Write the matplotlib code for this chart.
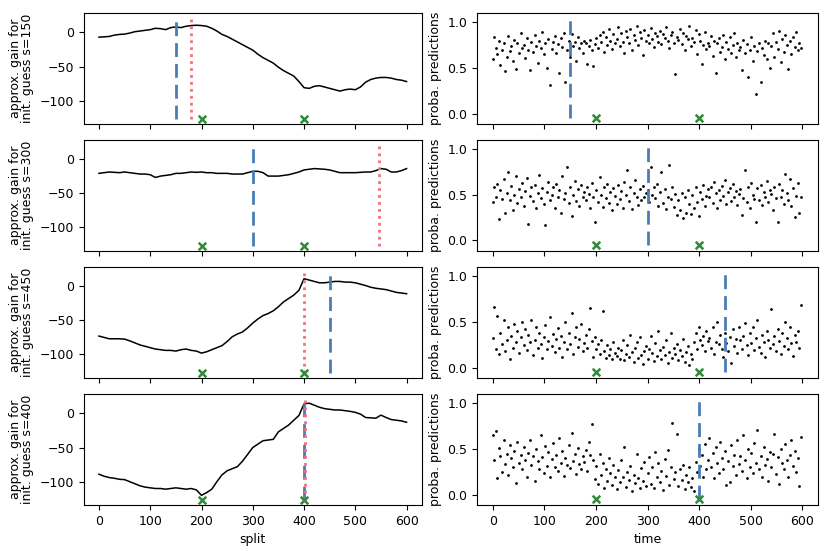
import numpy as np
import matplotlib
matplotlib.use("Agg")
import matplotlib.pyplot as plt

# ---- data ----
guesses = [150, 300, 450, 400]
true_cps = [200, 400]
detected = [150, 300, 450, 400]          # blue dashed
best_split = [180, 547, 400, 402]        # red dotted (left only)

split_step = 10
gain_150 = [-7, -6.5, -6, -4, -3, -2.5, -1, 1, 2, 3, 4, 6, 5.5, 4, 7, 8, 7, 9, 10, 10.5,
            10, 9, 6, 2, -3, -6, -10, -14, -18, -22, -26, -32, -37, -41, -45, -51, -56, -60,
            -64, -72, -81, -82, -79, -78, -80, -82, -84, -86, -84, -83, -84, -80, -73, -69,
            -67, -66, -66, -67, -69, -70, -72]
gain_300 = [-21, -20, -19, -19.5, -20, -19, -20, -21, -22, -22, -23, -27, -25, -24, -23,
            -21, -21, -20, -19, -19.5, -19, -20, -20, -21, -21, -21, -22, -22, -22, -20,
            -18, -18, -20, -25, -25, -25, -24, -23, -21, -19, -16, -15, -14, -14.5, -15,
            -16, -18, -20, -20, -20, -20, -19.5, -19, -19, -17, -14, -15, -19, -19, -17, -14]
gain_450 = [-73, -75, -77, -77, -77, -77.5, -80, -83, -86, -88, -90, -92, -93, -94, -94,
            -95, -93, -92, -94, -95, -98, -96, -93, -90, -87, -81, -74, -70, -67, -61, -54,
            -48, -43, -40, -36, -30, -23, -18, -13, -6, 11, 9, 7, 5, 5, 6, 7, 7, 6, 6, 5, 3,
            1, -1.5, -3, -4, -5, -7, -9, -10, -11]
gain_400 = [-89, -92, -94, -95, -96.5, -97, -100, -103, -106, -108, -109, -110, -110, -111,
            -110, -109, -110, -111, -110, -112, -120, -116, -111, -100, -90, -84, -81, -78,
            -70, -60, -50, -45, -40, -39, -38, -27, -22, -17, -10, -3, 14, 15, 12, 9, 7, 6,
            5, 5, 4, 3, 1.5, -1, -6, -6.5, -7, -2.5, -6, -9, -10, -11, -13]

time_step = 3
proba_150 = [60,84,72,65,80,53,70,78,47,62,85,69,74,58,81,49,77,66,88,72,
             75,61,83,70,48,79,68,86,74,56,80,72,90,65,77,50,82,32,71,79,
             85,67,76,45,83,73,88,35,70,80,62,87,74,79,58,84,72,77,66,80,
             78,55,74,81,70,52,76,83,72,86,79,90,68,84,75,93,80,71,87,77,
             82,95,74,88,79,66,91,84,78,93,70,86,81,96,75,89,83,64,92,80,
             86,78,94,82,73,88,85,79,91,76,87,83,95,80,72,86,89,78,44,84,
             81,93,76,88,70,85,82,96,74,83,79,92,65,87,80,55,75,90,71,78,
             74,85,63,80,45,77,83,68,73,86,60,79,71,84,66,75,88,62,78,70,
             73,48,81,67,76,40,70,84,58,74,22,69,78,35,72,64,80,60,77,50,
             74,88,62,79,71,91,57,82,68,86,75,49,80,65,84,73,90,70,78,72]
proba_300 = [42,58,48,62,24,55,45,67,30,52,75,44,60,33,50,70,41,56,47,63,
             38,54,68,18,49,58,43,61,35,52,72,46,57,40,17,53,64,44,50,59,
             36,62,48,55,30,70,45,52,80,41,58,27,50,65,43,56,38,61,47,53,
             44,59,51,35,63,48,20,55,42,69,50,37,58,46,62,41,53,33,57,49,
             40,61,45,54,36,64,50,77,43,58,34,52,66,47,39,56,44,60,48,52,
             55,42,80,50,58,46,62,38,53,75,41,56,34,48,83,45,59,37,51,28,
             44,33,52,25,47,30,55,40,29,50,36,58,42,27,53,45,61,38,49,56,
             47,58,41,64,52,36,55,44,60,49,66,40,53,57,43,62,48,54,39,51,
             56,28,46,77,42,58,35,63,50,45,20,57,44,61,39,53,48,65,42,55,
             51,33,59,46,20,62,48,55,40,73,52,44,67,38,57,26,49,63,30,47]
proba_450 = [32,66,20,57,15,38,26,52,18,30,44,10,35,22,48,28,40,16,33,50,
             25,42,19,36,28,52,14,30,45,21,38,26,11,34,47,20,29,55,24,37,
             17,31,43,22,35,12,28,50,20,38,26,60,15,33,44,23,31,48,18,27,
             36,22,42,65,29,12,34,20,26,15,30,62,18,11,25,14,20,9,28,16,
             13,22,10,19,30,8,15,25,12,36,17,6,21,28,11,33,14,4,18,24,
             10,20,35,16,7,27,13,40,19,9,23,14,30,5,17,38,11,21,15,26,
             8,19,13,31,6,17,24,3,15,10,28,38,20,45,30,25,35,18,40,29,
             32,22,44,15,28,50,26,36,20,12,38,27,18,33,5,42,24,31,16,45,
             30,20,35,49,25,14,38,27,44,19,32,52,23,16,36,28,12,40,30,22,
             64,26,35,18,42,29,15,38,24,50,32,20,45,27,13,36,28,40,22,69]
proba_400 = [66,38,70,18,51,42,25,60,34,45,22,55,40,30,48,13,58,35,44,28,
             52,38,20,46,60,33,42,15,50,37,28,65,41,24,53,32,47,19,39,57,
             30,44,26,62,35,48,21,40,33,55,29,68,37,45,23,51,34,28,42,36,
             49,26,58,44,78,38,17,31,12,45,22,35,8,28,15,40,24,11,33,19,
             6,27,14,38,20,52,9,25,16,32,4,22,13,45,18,7,29,15,36,10,
             24,41,12,30,8,47,19,35,14,26,5,39,21,49,11,30,79,17,25,67,
             10,28,16,33,6,22,14,30,9,18,4,36,25,50,32,44,20,56,28,38,
             62,30,46,18,52,35,24,58,40,28,48,11,37,14,55,31,44,22,60,34,
             42,26,65,38,18,50,30,46,24,57,35,71,28,43,20,52,33,39,15,47,
             30,45,67,23,41,12,50,35,28,56,38,19,44,60,32,48,25,40,10,63]

gains = [gain_150, gain_300, gain_450, gain_400]
probas = [proba_150, proba_300, proba_450, proba_400]

BLUE = "#4a7db4"
RED = "#f0707c"
GREEN = "#2e8b37"
FS = 9

plt.rcParams["xtick.labelsize"] = FS
plt.rcParams["ytick.labelsize"] = FS

fig = plt.figure(figsize=(8.3, 5.53), dpi=100)
bottoms = [0.776, 0.547, 0.317, 0.087]
h = 0.2
axL0 = None
axR0 = None
for i in range(4):
    axL = fig.add_axes([0.1007, bottoms[i], 0.4077, h], sharex=axL0)
    axR = fig.add_axes([0.575, bottoms[i], 0.4103, h], sharex=axR0)
    if axL0 is None:
        axL0, axR0 = axL, axR
    g = np.array(gains[i], dtype=float)
    xs = np.arange(len(g)) * split_step
    axL.plot(xs, g, color="black", lw=1.1)
    axL.vlines(detected[i], -127, 21.5, colors=BLUE, linestyles=(0, (5, 2.5)), lw=2)
    axL.vlines(best_split[i], -127, 21.5, colors=RED, linestyles=(0, (1, 1.5)), lw=2)
    axL.scatter(true_cps, [-127, -127], marker="x", color=GREEN, s=30, lw=1.8, zorder=3)
    axL.set_ylim(-134, 28)
    axL.set_xlim(-30, 630)
    axL.set_ylabel(f"approx. gain for\ninit. guess s={guesses[i]}", fontsize=FS, linespacing=0.9)

    p = np.array(probas[i], dtype=float) / 100.0
    ts = np.arange(len(p)) * time_step
    axR.scatter(ts, p, s=4, color="black", lw=0)
    axR.vlines(detected[i], -0.05, 1.05, colors=BLUE, linestyles=(0, (5, 2.5)), lw=2)
    axR.scatter(true_cps, [-0.05, -0.05], marker="x", color=GREEN, s=30, lw=1.8, zorder=3)
    axR.set_ylim(-0.11, 1.10)
    axR.set_xlim(-30, 630)
    axR.set_yticks([0.0, 0.5, 1.0])
    axR.set_ylabel("proba. predictions", fontsize=FS)
    axL.set_xticks([0, 100, 200, 300, 400, 500, 600])
    axR.set_xticks([0, 100, 200, 300, 400, 500, 600])
    if i < 3:
        axL.tick_params(labelbottom=False)
        axR.tick_params(labelbottom=False)
    else:
        axL.set_xlabel("split", fontsize=FS)
        axR.set_xlabel("time", fontsize=FS)

fig.savefig("out.png", dpi=100)
